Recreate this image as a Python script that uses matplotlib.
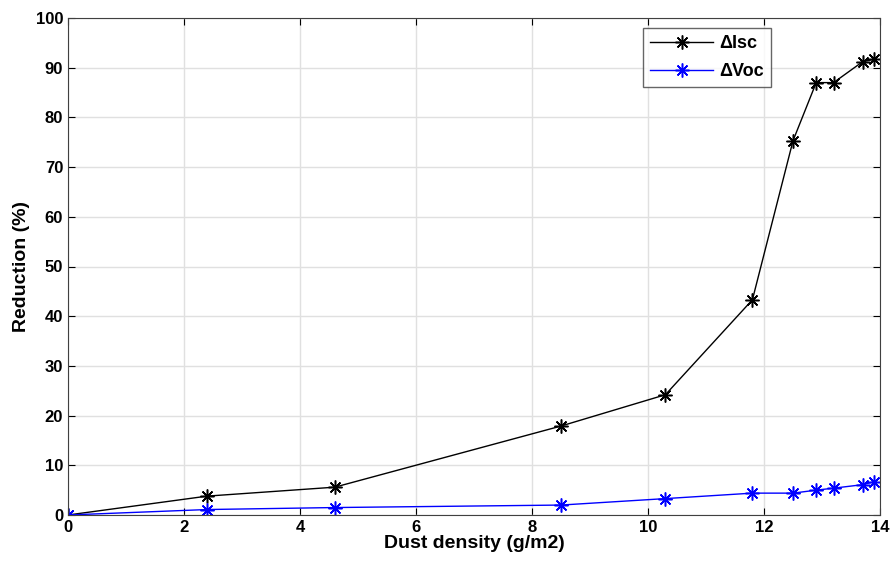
import matplotlib.pyplot as plt

# Data
dust_density = [0, 2.4, 4.6, 8.5, 10.3, 11.8, 12.5, 12.9, 13.2, 13.7, 13.9]
delta_isc = [0, 3.8, 5.6, 17.9, 24.2, 43.3, 75.3, 87.0, 87.0, 91.2, 91.7]
delta_voc = [0, 1.1, 1.5, 2.0, 3.3, 4.4, 4.4, 5.0, 5.4, 6.1, 6.7]

plt.rcParams["font.family"] = ["Liberation Sans", "DejaVu Sans"]
plt.rcParams["font.weight"] = "bold"

fig = plt.figure(figsize=(8.93, 5.68), dpi=100)
ax = fig.add_axes([68 / 893, 53 / 568, 812 / 893, 497 / 568])

# asterisk-like marker, similar to MATLAB '*'
star = (8, 2, 0)
ax.plot(dust_density, delta_isc, color="black", marker=star, markersize=10,
        markeredgewidth=1.1, linewidth=1, label="ΔIsc")
ax.plot(dust_density, delta_voc, color="blue", marker=star, markersize=10,
        markeredgewidth=1.1, linewidth=1, label="ΔVoc")

ax.set_xlim(0, 14)
ax.set_ylim(0, 100)
ax.set_xticks(range(0, 15, 2))
ax.set_yticks(range(0, 101, 10))
ax.tick_params(direction="in", top=True, right=True, labelsize=12, length=5)
for lbl in ax.get_xticklabels() + ax.get_yticklabels():
    lbl.set_fontweight("bold")
ax.grid(True, color="#e0e0e0", linewidth=1)
for sp in ax.spines.values():
    sp.set_color("#404040")

ax.set_xlabel("Dust density (g/m2)", fontsize=14, fontweight="bold", labelpad=0)
ax.set_ylabel("Reduction (%)", fontsize=14, fontweight="bold", labelpad=4)

leg = ax.legend(loc="upper left", bbox_to_anchor=(575 / 812, 0.98), fontsize=13,
                frameon=True, fancybox=False, edgecolor="#404040",
                handlelength=3.5, handletextpad=0.3, borderpad=0.4,
                labelspacing=0.6, borderaxespad=0)
leg.get_frame().set_linewidth(1)

fig.savefig("out.png", dpi=100)
